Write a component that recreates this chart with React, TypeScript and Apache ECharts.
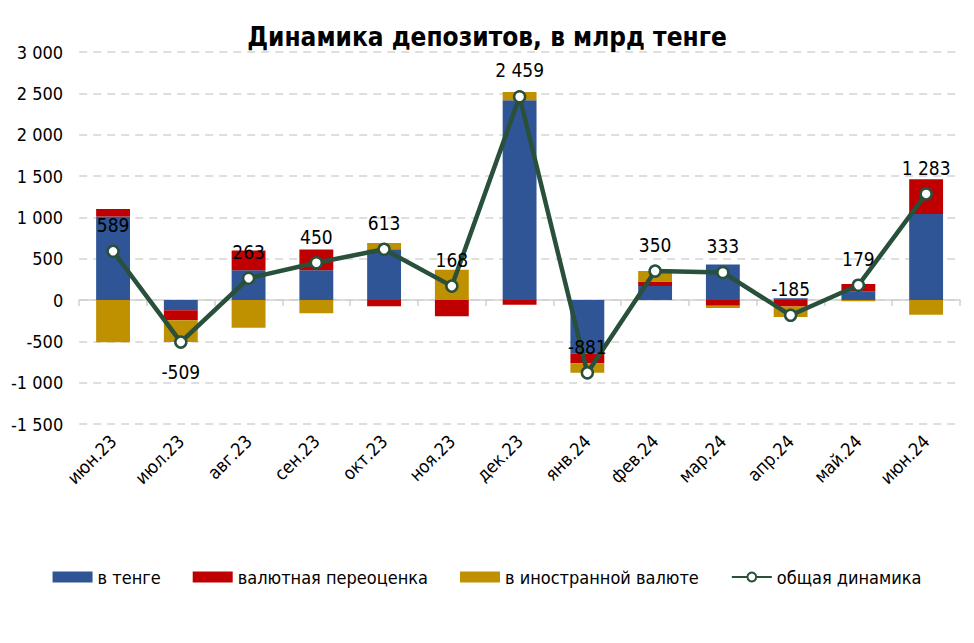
import React, { useEffect, useRef } from "react";
import * as echarts from "echarts";

const categories = ["июн.23", "июл.23", "авг.23", "сен.23", "окт.23", "ноя.23", "дек.23", "янв.24", "фев.24", "мар.24", "апр.24", "май.24", "июн.24"];
const tenge = [1010, -125, 360, 360, 615, 0, 2415, -650, 170, 430, 20, 105, 1040];
const revaluation = [90, -120, 240, 250, -77, -197, -56, -115, 55, -70, -80, 90, 420];
const foreign = [-511, -264, -337, -160, 75, 365, 100, -116, 125, -27, -125, -16, -177];
const total = [589, -509, 263, 450, 613, 168, 2459, -881, 350, 333, -185, 179, 1283];
const labelBelow = [1];

const FONT = "'Liberation Sans Narrow', 'DejaVu Sans Condensed', 'Roboto', sans-serif";

const fmt = (v: number) => {
  const s = Math.abs(Math.round(v)).toString().replace(/\B(?=(\d{3})+(?!\d))/g, " ");
  return (v < 0 ? "-" : "") + s;
};

export default function App() {
  const ref = useRef<HTMLDivElement>(null);
  useEffect(() => {
    if (!ref.current) return;
    const chart = echarts.init(ref.current, null, { renderer: "svg" });
    chart.setOption({
      animation: false,
      backgroundColor: "#ffffff",
      title: {
        text: "Динамика депозитов, в млрд тенге",
        left: "center",
        top: 11,
        textStyle: { fontFamily: "'DejaVu Sans Condensed', 'DejaVu Sans', sans-serif", fontWeight: "bold", fontSize: 26, color: "#000" },
      },
      legend: {
        bottom: 44,
        left: "center",
        itemWidth: 40,
        itemHeight: 11,
        itemGap: 32,
        textStyle: { fontFamily: FONT, fontSize: 18, color: "#000" },
        data: [
          { name: "в тенге", icon: "rect" },
          { name: "валютная переоценка", icon: "rect" },
          { name: "в иностранной валюте", icon: "rect" },
          { name: "общая динамика" },
        ],
      },
      grid: { left: 70, right: 6, top: 44, bottom: 211 },
      xAxis: [
        {
          type: "category",
          data: categories,
          axisLine: { onZero: true, lineStyle: { color: "#d0d0d0", width: 1.5 } },
          axisTick: { show: true, length: 6, lineStyle: { color: "#d0d0d0", width: 1.5 } },
          axisLabel: { show: false },
        },
        {
          type: "category",
          data: categories,
          position: "bottom",
          axisLine: { show: false, onZero: false },
          axisTick: { show: false },
          axisLabel: { rotate: 45, margin: 14, fontFamily: FONT, fontSize: 18, color: "#000" },
        },
      ],
      yAxis: {
        type: "value",
        min: -1500,
        max: 3000,
        interval: 500,
        axisLine: { show: false },
        axisTick: { show: false },
        axisLabel: { formatter: (v: number) => fmt(v), fontFamily: FONT, fontSize: 18, color: "#000", margin: 16 },
        splitLine: { lineStyle: { color: "#d4d4d4", type: [8, 6], width: 1.5 } },
      },
      series: [
        { name: "в тенге", type: "bar", stack: "s", barWidth: "50%", itemStyle: { color: "#2F5597" }, data: tenge },
        { name: "валютная переоценка", type: "bar", stack: "s", barWidth: "50%", itemStyle: { color: "#C00000" }, data: revaluation },
        { name: "в иностранной валюте", type: "bar", stack: "s", barWidth: "50%", itemStyle: { color: "#BF9000" }, data: foreign },
        {
          name: "общая динамика",
          type: "line",
          symbol: "circle",
          symbolSize: 11,
          lineStyle: { color: "#28503A", width: 4.5 },
          itemStyle: { color: "#ffffff", borderColor: "#28503A", borderWidth: 2.5 },
          label: {
            show: true,
            position: "top",
            distance: 10,
            fontFamily: FONT,
            fontSize: 19,
            color: "#000",
            formatter: (p: any) => fmt(p.value),
          },
          z: 5,
          data: total.map((v, i) =>
            labelBelow.includes(i) ? { value: v, label: { position: "bottom", distance: 14 } } : v
          ),
        },
      ],
    });
    return () => chart.dispose();
  }, []);
  return <div ref={ref} style={{ width: 958, height: 627 }} />;
}
